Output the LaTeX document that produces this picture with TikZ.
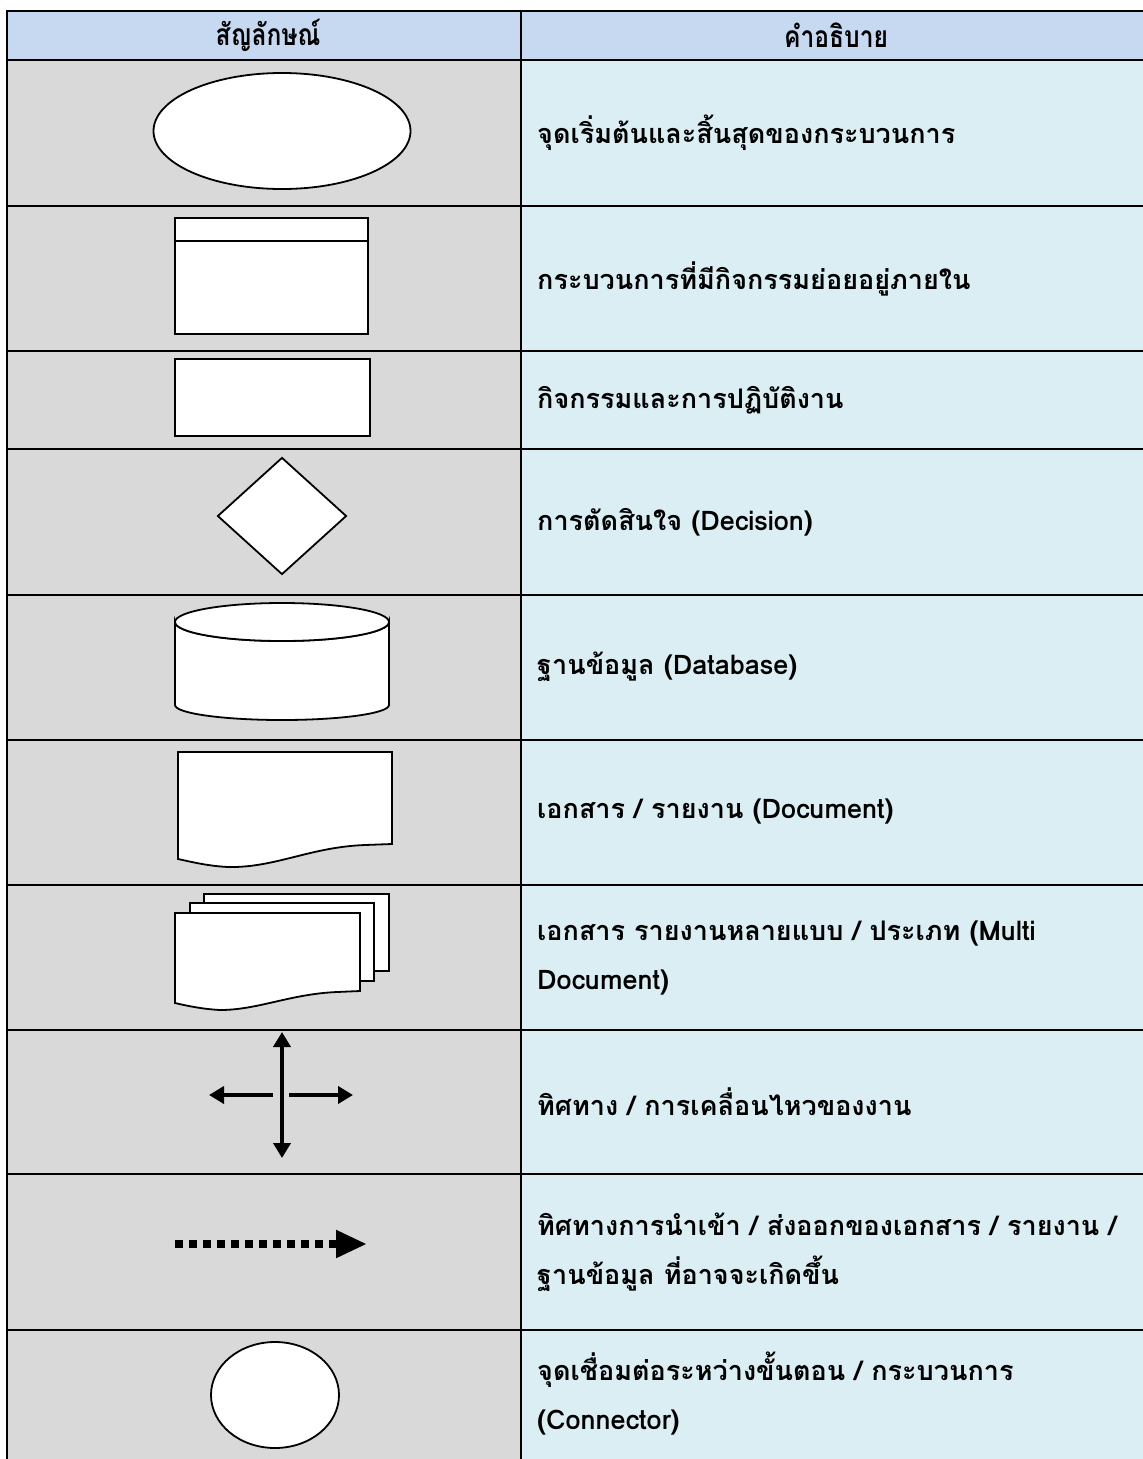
\documentclass[tikz,border=0pt]{standalone}
\usepackage{fontspec}
\newfontfamily\thai[Script=Thai]{Loma}
\usetikzlibrary{arrows.meta,shapes.geometric}
\definecolor{headblue}{HTML}{C6D9F1}
\definecolor{symgray}{HTML}{D9D9D9}
\definecolor{desccyan}{HTML}{DAEEF3}
\begin{document}
\begin{tikzpicture}[x=1pt,y=-1pt,
  grid/.style={line width=2.6pt},
  shp/.style={draw=black,fill=white,line width=1.8pt},
  desc/.style={anchor=west,align=left,inner sep=0pt,font={\thai\bfseries\fontsize{27}{49}\selectfont}},
  headtxt/.style={inner sep=0pt,font={\thai\bfseries\fontsize{30}{34}\selectfont},xscale=0.82},
  flowarrow/.style={line width=4pt,-{Triangle[length=15pt,width=17pt]}},
  dotarrow/.style={line width=8pt,dash pattern=on 8pt off 6pt,-{Triangle[length=31pt,width=26pt]}}]
\useasboundingbox (0,0) rectangle (1143,1459);
\fill[white] (0,0) rectangle (1143,1459);
% backgrounds
\fill[headblue] (7,11) rectangle (1150,60);
\fill[symgray] (7,60) rectangle (521,1470);
\fill[desccyan] (521,60) rectangle (1150,1470);
% grid lines
\draw[grid] (7,1470) -- (7,11) -- (1150,11);
\draw[grid] (521,11) -- (521,1470);
\foreach \yy in {60,206,351,449,595,740,885,1030,1174,1330}
  \draw[grid] (7,\yy) -- (1150,\yy);
% header
\node[headtxt] (h1) at (268,35) {สัญลักษณ์};
\node[headtxt] (h2) at (836,35) {คำอธิบาย};
% row 1 terminator
\node[shp,ellipse,minimum width=257pt,minimum height=116pt,inner sep=0pt] (term) at (282,131) {};
\node[desc] (d1) at (537,133) {จุดเริ่มต้นและสิ้นสุดของกระบวนการ};
% row 2 predefined process
\node[shp,rectangle,minimum width=193pt,minimum height=116pt,inner sep=0pt] (sub) at (271.5,276) {};
\draw[line width=1.8pt] ([yshift=-24pt]sub.north west) -- ([yshift=-24pt]sub.north east);
\node[desc] (d2) at (537,279) {กระบวนการที่มีกิจกรรมย่อยอยู่ภายใน};
% row 3 process
\node[shp,rectangle,minimum width=195pt,minimum height=77pt,inner sep=0pt] (act) at (272.5,397.5) {};
\node[desc] (d3) at (537,400) {กิจกรรมและการปฏิบัติงาน};
% row 4 decision
\node[shp,diamond,minimum width=129pt,minimum height=117pt,inner sep=0pt,aspect=1.1] (dec) at (282,516) {};
\node[desc] (d4) at (537,522) {การตัดสินใจ (Decision)};
% row 5 database
\filldraw[shp] (175,622) -- (175,705) arc[start angle=180,end angle=360,x radius=107pt,y radius=15pt] -- (389,622) arc[start angle=0,end angle=-180,x radius=107pt,y radius=19pt] -- cycle;
\draw[shp] (282,622) ellipse[x radius=107pt,y radius=19pt];
\node[desc] (d5) at (537,667) {ฐานข้อมูล (Database)};
% row 6 document
\filldraw[shp] (178,752) -- (392,752) -- (392,844) -- (365,845) .. controls (310,847) and (275,868) .. (228,867) .. controls (208,866) and (192,862) .. (178,859) -- cycle;
\node[desc] (d6) at (537,812) {เอกสาร / รายงาน (Document)};
% row 7 multi document
\filldraw[shp] (204,894) rectangle (389,971);
\filldraw[shp] (190,903) rectangle (374,981);
\filldraw[shp] (175,913) -- (360,913) -- (360,991) -- (337,992) .. controls (290,994) and (258,1010) .. (220,1010) .. controls (202,1009) and (188,1006) .. (175,1003) -- cycle;
\node[desc] (d7) at (537,958) {เอกสาร รายงานหลายแบบ / ประเภท (Multi\\Document)};
% row 8 flow arrows
\coordinate (fc) at (282,1095);
\coordinate (fup) at (282,1032);
\coordinate (fdown) at (282,1158);
\coordinate (fleft) at (209,1095);
\coordinate (fright) at (353,1095);
\draw[flowarrow] ([yshift=-6pt]fc) -- (fup);
\draw[flowarrow] ([yshift=5pt]fc) -- (fdown);
\draw[flowarrow] ([xshift=-9pt]fc) -- (fleft);
\draw[flowarrow] ([xshift=7pt]fc) -- (fright);
\node[desc] (d8) at (537,1102) {ทิศทาง / การเคลื่อนไหวของงาน};
% row 9 dotted arrow
\coordinate (ds) at (175,1244);
\coordinate (de) at (367,1244);
\draw[dotarrow] (ds) -- (de);
\node[desc] (d9) at (537,1252) {ทิศทางการนำเข้า / ส่งออกของเอกสาร / รายงาน /\\ฐานข้อมูล ที่อาจจะเกิดขึ้น};
% row 10 connector
\node[shp,ellipse,minimum width=128pt,minimum height=106pt,inner sep=0pt] (conn) at (275,1395) {};
\node[desc] (d10) at (537,1394) {จุดเชื่อมต่อระหว่างขั้นตอน / กระบวนการ\\(Connector)};
\end{tikzpicture}
\end{document}
